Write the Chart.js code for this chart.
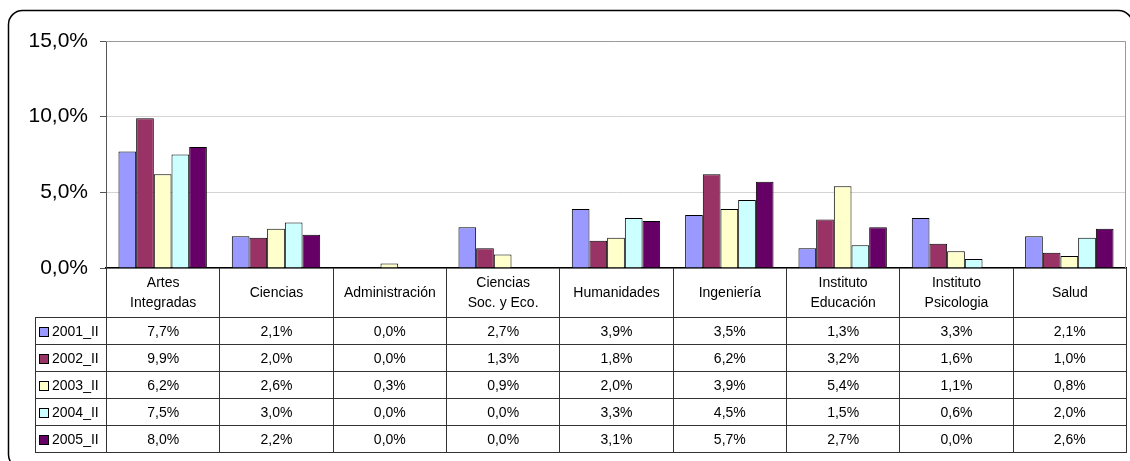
<!DOCTYPE html>
<html>
<head>
<meta charset="utf-8">
<script src="https://cdn.jsdelivr.net/npm/chart.js@4"></script>
<style>
  body { margin: 0; background: #fff; }
  #wrap { position: relative; width: 1130px; height: 461px; overflow: hidden; }
  #myChart { position: absolute; left: 0; top: 0; }
  #dataTable {
    position: absolute;
    border-collapse: collapse;
    table-layout: fixed;
    font-family: 'Liberation Sans', Arial, sans-serif;
    font-size: 14px;
    color: #000;
  }
  #dataTable td {
    border: 1px solid #333;
    text-align: center;
    padding: 0;
    overflow: hidden;
    white-space: nowrap;
  }
  #dataTable tr.head td { border-top: none; line-height: 20px; }
  #dataTable tr.head td.blank { border: none; }
  #dataTable td.key { text-align: left; padding-left: 3px; }
  .swatch {
    display: inline-block;
    width: 8px;
    height: 8px;
    border: 1px solid #000;
    margin-right: 3px;
    vertical-align: -1px;
  }
</style>
</head>
<body>
<div id="wrap">
  <canvas id="myChart" width="1130" height="461"></canvas>
  <table id="dataTable"></table>
</div>
<script>
'use strict'
// data (percent)
let categories = [['Artes', 'Integradas'], 'Ciencias', 'Administración', ['Ciencias', 'Soc. y Eco.'], 'Humanidades', 'Ingeniería', ['Instituto', 'Educación'], ['Instituto', 'Psicologia'], 'Salud'];
let seriesNames = ['2001_II', '2002_II', '2003_II', '2004_II', '2005_II'];
let values2001 = [7.7, 2.1, 0.0, 2.7, 3.9, 3.5, 1.3, 3.3, 2.1];
let values2002 = [9.9, 2.0, 0.0, 1.3, 1.8, 6.2, 3.2, 1.6, 1.0];
let values2003 = [6.2, 2.6, 0.3, 0.9, 2.0, 3.9, 5.4, 1.1, 0.8];
let values2004 = [7.5, 3.0, 0.0, 0.0, 3.3, 4.5, 1.5, 0.6, 2.0];
let values2005 = [8.0, 2.2, 0.0, 0.0, 3.1, 5.7, 2.7, 0.0, 2.6];
let yTicks = [0, 5, 10, 15];

let allValues = [values2001, values2002, values2003, values2004, values2005];
let colors = ['#9999ff', '#993366', '#ffffcc', '#ccffff', '#660066'];

function pct(v) {
  return v.toFixed(1).replace('.', ',') + '%';
}

let datasets = [];
for (let i = 0; i < seriesNames.length; i++) {
  datasets.push({
    label: seriesNames[i],
    data: allValues[i],
    backgroundColor: colors[i],
    borderColor: '#000',
    borderWidth: 1,
    borderSkipped: 'bottom',
    categoryPercentage: 0.78,
    barPercentage: 1
  });
}

// rounded outer frame and grey plot border
const framePlugin = {
  id: 'frame',
  beforeDraw(chart) {
    let c = chart.ctx;
    c.save();
    c.fillStyle = '#fff';
    c.fillRect(0, 0, chart.width, chart.height);
    c.strokeStyle = '#000';
    c.lineWidth = 1.5;
    c.beginPath();
    c.roundRect(8.5, 10.5, 1124, 458, 14);
    c.stroke();
    c.restore();
  },
  afterDraw(chart) {
    let a = chart.chartArea;
    let c = chart.ctx;
    c.save();
    c.strokeStyle = '#9a9a9a';
    c.lineWidth = 1;
    c.beginPath();
    c.moveTo(a.left, a.top + 0.5);
    c.lineTo(a.right - 0.5, a.top + 0.5);
    c.lineTo(a.right - 0.5, a.bottom);
    c.stroke();
    c.restore();
  }
};

const ctx = document.getElementById('myChart');
const chart = new Chart(ctx, {
  type: 'bar',
  data: {
    labels: categories,
    datasets: datasets
  },
  options: {
    responsive: false,
    animation: false,
    devicePixelRatio: 1,
    layout: { padding: { left: 0, top: 41, right: 4, bottom: 193 } },
    plugins: {
      legend: { display: false },
      tooltip: { enabled: false }
    },
    scales: {
      x: {
        ticks: { display: false },
        grid: { display: false, drawTicks: false },
        border: { color: '#000', width: 1.5 },
        afterFit: s => { s.height = 0; }
      },
      y: {
        min: 0,
        max: 15,
        afterBuildTicks: s => { s.ticks = yTicks.map(v => ({ value: v })); },
        ticks: {
          callback: v => pct(v),
          color: '#000',
          padding: 12,
          font: { family: "'Liberation Sans', Arial, sans-serif", size: 21 }
        },
        grid: { color: '#d4d4d4', tickColor: '#555', tickLength: 6, lineWidth: 1 },
        border: { color: '#555', width: 1 },
        afterFit: s => { s.width = 106; }
      }
    }
  },
  plugins: [framePlugin]
});

// data table under the plot, columns lined up with the category slots
function buildTable() {
  let a = chart.chartArea;
  let colW = (a.right - a.left) / categories.length;
  let keyW = 71;
  let table = document.getElementById('dataTable');
  table.style.left = (a.left - keyW) + 'px';
  table.style.top = a.bottom + 'px';
  table.style.width = (a.right - a.left + keyW) + 'px';

  let html = '<colgroup><col style="width:' + keyW + 'px">';
  for (let i = 0; i < categories.length; i++) {
    html += '<col style="width:' + colW + 'px">';
  }
  html += '</colgroup>';

  html += '<tr class="head" style="height:49px"><td class="blank"></td>';
  for (let i = 0; i < categories.length; i++) {
    let lab = Array.isArray(categories[i]) ? categories[i].join('<br>') : categories[i];
    html += '<td>' + lab + '</td>';
  }
  html += '</tr>';

  for (let s = 0; s < seriesNames.length; s++) {
    html += '<tr style="height:27.2px"><td class="key"><span class="swatch" style="background:' + colors[s] + '"></span>' + seriesNames[s] + '</td>';
    for (let i = 0; i < categories.length; i++) {
      html += '<td>' + pct(allValues[s][i]) + '</td>';
    }
    html += '</tr>';
  }
  table.innerHTML = html;
}
buildTable();
</script>
</body>
</html>
